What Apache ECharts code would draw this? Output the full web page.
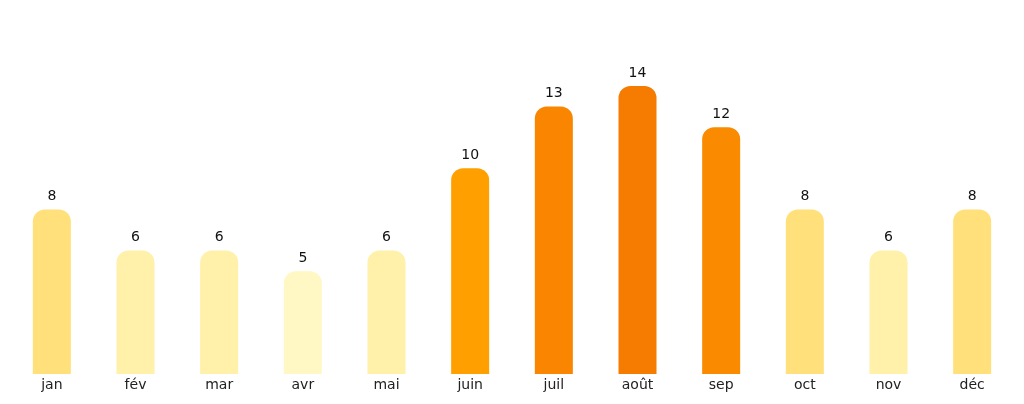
<!DOCTYPE html>
<html><head><meta charset="utf-8">
<script src="https://cdn.jsdelivr.net/npm/echarts@6/dist/echarts.min.js"></script>
<style>html,body{margin:0;padding:0;background:#fff}#c{width:1024px;height:404px}</style>
</head><body><div id="c"></div>
<script>
const categories=['jan','fév','mar','avr','mai','juin','juil','août','sep','oct','nov','déc'];
const values=[8,6,6,5,6,10,13,14,12,8,6,8];
const colors=['#FFE07A','#FFF0AA','#FFF0AA','#FFF8C4','#FFF0AA','#FF9F00','#F98500','#F57C00','#FA8A00','#FFE07A','#FFF0AA','#FFE07A'];
const chart=echarts.init(document.getElementById('c'));
chart.setOption({
  animation:false,
  grid:{left:10,right:10,top:86,bottom:30},
  xAxis:{type:'category',data:categories,axisLine:{show:false},axisTick:{show:false},
    axisLabel:{color:'#222',fontSize:14,fontFamily:'DejaVu Sans',margin:4}},
  yAxis:{type:'value',min:0,max:14,show:false,splitLine:{show:false}},
  series:[{type:'bar',barWidth:38,
    data:values.map((v,i)=>({value:v,itemStyle:{color:colors[i]}})),
    itemStyle:{borderRadius:[12,12,0,0]},
    label:{show:true,position:'top',color:'#111',fontSize:14,fontFamily:'DejaVu Sans',distance:6}}]
});
</script></body></html>
